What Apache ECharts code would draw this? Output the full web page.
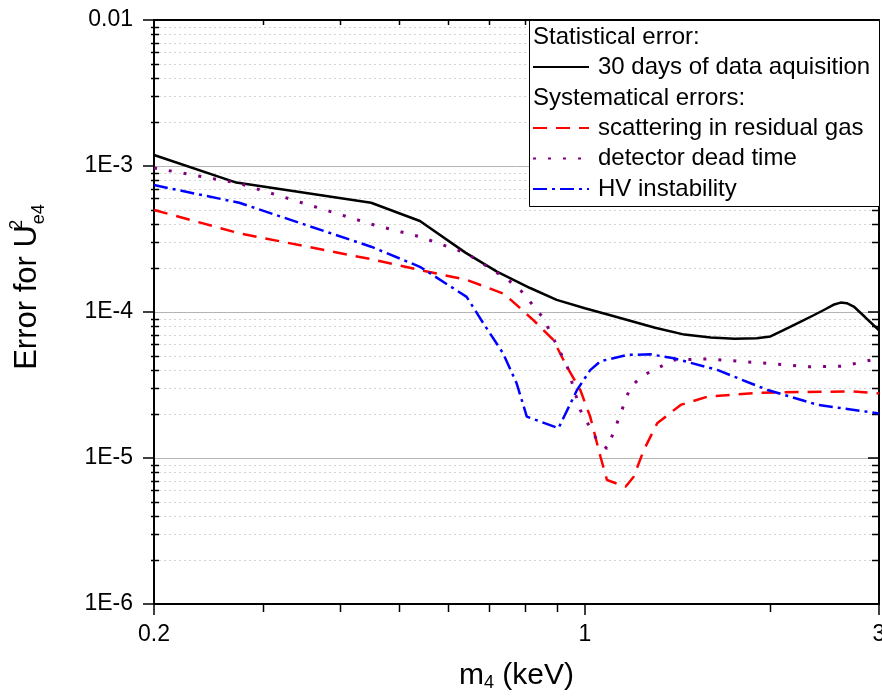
<!DOCTYPE html>
<html><head><meta charset="utf-8">
<script src="https://cdn.jsdelivr.net/npm/echarts@6/dist/echarts.min.js"></script>
<style>html,body{margin:0;padding:0;background:#fff}#c{width:882px;height:699px}</style>
</head><body><div id="c"></div>
<script>
// ---- data ----
const statX = [0.2, 0.272, 0.45, 0.54, 0.64, 0.72, 0.815, 0.9, 1.0, 1.1, 1.3, 1.45, 1.6, 1.75, 1.9, 2.0, 2.1, 2.24, 2.35, 2.45, 2.53, 2.6, 2.66, 2.73, 2.85, 3.0];
const statY = [1.19e-3, 7.7e-4, 5.6e-4, 4.2e-4, 2.55e-4, 1.89e-4, 1.46e-4, 1.21e-4, 1.06e-4, 9.5e-5, 7.8e-5, 7.0e-5, 6.7e-5, 6.55e-5, 6.6e-5, 6.8e-5, 7.5e-5, 8.6e-5, 9.5e-5, 1.04e-4, 1.12e-4, 1.16e-4, 1.15e-4, 1.09e-4, 9.2e-5, 7.5e-5];

const gasX = [0.2, 0.275, 0.45, 0.54, 0.643, 0.74, 0.825, 0.889, 0.935, 0.983, 1.02, 1.06, 1.086, 1.164, 1.2, 1.246, 1.31, 1.43, 1.58, 1.93, 2.24, 2.7, 3.0];
const gasY = [5.0e-4, 3.46e-4, 2.3e-4, 1.94e-4, 1.66e-4, 1.33e-4, 8.8e-5, 6.43e-5, 4.22e-5, 2.92e-5, 1.92e-5, 1.02e-5, 7.07e-6, 6.36e-6, 7.45e-6, 1.13e-5, 1.73e-5, 2.31e-5, 2.63e-5, 2.8e-5, 2.83e-5, 2.86e-5, 2.77e-5];

const deadX = [0.2, 0.275, 0.45, 0.54, 0.643, 0.751, 0.79, 0.856, 0.935, 0.983, 1.046, 1.086, 1.114, 1.186, 1.246, 1.394, 1.58, 1.906, 2.3, 2.62, 3.0];
const deadY = [9.7e-4, 7.6e-4, 4.0e-4, 3.28e-4, 2.52e-4, 1.66e-4, 1.38e-4, 9.1e-5, 4.3e-5, 2.13e-5, 1.33e-5, 1.16e-5, 1.51e-5, 3.08e-5, 3.7e-5, 4.69e-5, 4.77e-5, 4.5e-5, 4.22e-5, 4.25e-5, 4.82e-5];

const hvX = [0.2, 0.275, 0.45, 0.54, 0.643, 0.684, 0.737, 0.775, 0.805, 0.906, 0.971, 1.02, 1.06, 1.171, 1.278, 1.394, 1.64, 1.98, 2.39, 3.0];
const hvY = [7.4e-4, 5.6e-4, 2.8e-4, 2.04e-4, 1.27e-4, 8.4e-5, 5.2e-5, 3.25e-5, 1.92e-5, 1.6e-5, 2.92e-5, 4.0e-5, 4.6e-5, 5.08e-5, 5.13e-5, 4.82e-5, 4.01e-5, 2.92e-5, 2.31e-5, 2.02e-5];

const seriesNames = ['30 days of data aquisition', 'scattering in residual gas', 'detector dead time', 'HV instability'];
const legendHeaders = ['Statistical error:', 'Systematical errors:'];

const xMin = 0.2, xMax = 3;
const yMin = 1e-6, yMax = 0.01;
const xMinorTicks = [0.3, 0.4, 0.5, 0.6, 0.7, 0.8, 0.9, 2];
const yMinorTicks = [];
[1e-6, 1e-5, 1e-4, 1e-3].forEach(d => { for (let k = 2; k <= 9; k++) yMinorTicks.push(+(k * d).toPrecision(3)); });

// ---- chart ----
const FONT = '"Liberation Sans", Arial, sans-serif';
const zip = (xs, ys) => xs.map((x, i) => [x, ys[i]]);
const chart = echarts.init(document.getElementById('c'), null, {renderer: 'canvas'});

function lineSeries(name, xs, ys, color, width, dash) {
  return {
    name, type: 'line', data: zip(xs, ys), xAxisIndex: 0, yAxisIndex: 0,
    showSymbol: false, symbol: 'none', smooth: false, z: 5,
    lineStyle: {color, width, type: dash},
    itemStyle: {color}
  };
}

const legendCommon = {
  orient: 'vertical', padding: 0, itemWidth: 56, itemHeight: 14, selectedMode: false, z: 20,
  itemStyle: {opacity: 0},
  textStyle: {color: '#000', fontSize: 24, fontFamily: FONT, lineHeight: 24, padding: [0, 0, 0, 4]}
};

const option = {
  animation: false,
  backgroundColor: '#fff',
  grid: {left: 154, right: 3, top: 20, bottom: 95, containLabel: false, outerBoundsMode: 'none'},
  xAxis: [{
    type: 'log', logBase: 10, min: xMin, max: xMax, position: 'bottom',
    axisLine: {lineStyle: {color: '#000', width: 2}},
    axisTick: {inside: false, length: 11, lineStyle: {color: '#000', width: 1.5}},
    axisLabel: {color: '#000', fontSize: 23, fontFamily: FONT, margin: 19, showMinLabel: true, showMaxLabel: true,
      formatter: v => String(+(+v).toPrecision(3))},
    splitLine: {show: false},
    name: 'm{sub|4} (keV)', nameLocation: 'middle', nameGap: 55,
    nameTextStyle: {color: '#000', fontSize: 30, fontFamily: FONT,
      rich: {sub: {fontSize: 18, fontFamily: FONT, color: '#000', verticalAlign: 'bottom', padding: [15, 0, 0, 0]}}}
  }, {
    type: 'log', logBase: 10, min: xMin, max: xMax, position: 'top',
    axisLine: {lineStyle: {color: '#000', width: 2}},
    axisTick: {inside: true, length: 8, lineStyle: {color: '#000', width: 1.5}},
    axisLabel: {show: false}, splitLine: {show: false}
  }],
  yAxis: [{
    type: 'log', logBase: 10, min: yMin, max: yMax, position: 'left',
    axisLine: {lineStyle: {color: '#000', width: 2}},
    axisTick: {inside: false, length: 11, lineStyle: {color: '#000', width: 1.5}},
    axisLabel: {color: '#000', fontSize: 23, fontFamily: FONT, margin: 21,
      formatter: v => v >= 0.01 ? '0.01' : '1E' + Math.round(Math.log10(v))},
    splitLine: {show: true, lineStyle: {color: '#b4b4b4', width: 1}},
    name: 'Error for U{sup|2}{sub|e4}', nameLocation: 'middle', nameGap: 106, nameRotate: 90,
    nameTextStyle: {color: '#000', fontSize: 31, fontFamily: FONT, lineHeight: 42, padding: [0, 0, 0, 50],
      rich: {
        sup: {fontSize: 18, fontFamily: FONT, color: '#000', width: 1, verticalAlign: 'top', lineHeight: 42, padding: [2, 0, 0, 0]},
        sub: {fontSize: 18, fontFamily: FONT, color: '#000', verticalAlign: 'bottom', lineHeight: 42}
      }}
  }, {
    type: 'log', logBase: 10, min: yMin, max: yMax, position: 'right',
    axisLine: {lineStyle: {color: '#000', width: 2}},
    axisTick: {inside: true, length: 11, lineStyle: {color: '#000', width: 1.5}},
    axisLabel: {show: false}, splitLine: {show: false}
  }],
  legend: [
    Object.assign({}, legendCommon, {data: [seriesNames[0]], left: 532, top: 55}),
    Object.assign({}, legendCommon, {data: seriesNames.slice(1), left: 532, top: 116, itemGap: 6.5})
  ],
  graphic: [
    {type: 'rect', z: 15, shape: {x: 529.5, y: 20.5, width: 350, height: 186},
      style: {fill: '#fff', stroke: '#000', lineWidth: 1}},
    {type: 'text', z: 16, x: 533, y: 37, style: {text: legendHeaders[0], fontSize: 24, fontFamily: FONT, fill: '#000', verticalAlign: 'middle'}},
    {type: 'text', z: 16, x: 533, y: 98, style: {text: legendHeaders[1], fontSize: 24, fontFamily: FONT, fill: '#000', verticalAlign: 'middle'}}
  ],
  series: [
    {
      type: 'custom', name: 'yminor', xAxisIndex: 0, yAxisIndex: 0, z: 1, clip: false, silent: true,
      data: yMinorTicks.map(v => [xMin, v]),
      renderItem: (params, api) => {
        const cs = params.coordSys;
        const y = Math.round(api.coord([xMin, api.value(1)])[1]) + 0.5;
        return {type: 'group', children: [
          {type: 'line', shape: {x1: cs.x, y1: y, x2: cs.x + cs.width, y2: y}, style: {stroke: '#d4d4d4', lineWidth: 1, lineDash: [2, 3]}},
          {type: 'line', shape: {x1: cs.x - 3, y1: y, x2: cs.x + 5, y2: y}, style: {stroke: '#000', lineWidth: 1.5}},
          {type: 'line', shape: {x1: cs.x + cs.width - 7, y1: y, x2: cs.x + cs.width, y2: y}, style: {stroke: '#000', lineWidth: 1.5}}
        ]};
      }
    },
    {
      type: 'custom', name: 'xminor', xAxisIndex: 0, yAxisIndex: 0, z: 1, clip: false, silent: true,
      data: xMinorTicks.map(v => [v, yMin]),
      renderItem: (params, api) => {
        const cs = params.coordSys;
        const x = Math.round(api.coord([api.value(0), yMin])[0]) + 0.5;
        return {type: 'group', children: [
          {type: 'line', shape: {x1: x, y1: cs.y + cs.height, x2: x, y2: cs.y + cs.height + 8}, style: {stroke: '#000', lineWidth: 1.5}},
          {type: 'line', shape: {x1: x, y1: cs.y, x2: x, y2: cs.y + 5}, style: {stroke: '#000', lineWidth: 1.5}}
        ]};
      }
    },
    lineSeries(seriesNames[0], statX, statY, '#000000', 2.5, 'solid'),
    lineSeries(seriesNames[1], gasX, gasY, '#ff0000', 2.5, [14, 9]),
    lineSeries(seriesNames[2], deadX, deadY, '#800080', 3, [3, 12]),
    lineSeries(seriesNames[3], hvX, hvY, '#0000ff', 2.5, [14, 5, 3, 5])
  ]
};
chart.setOption(option);
</script>
</body></html>
